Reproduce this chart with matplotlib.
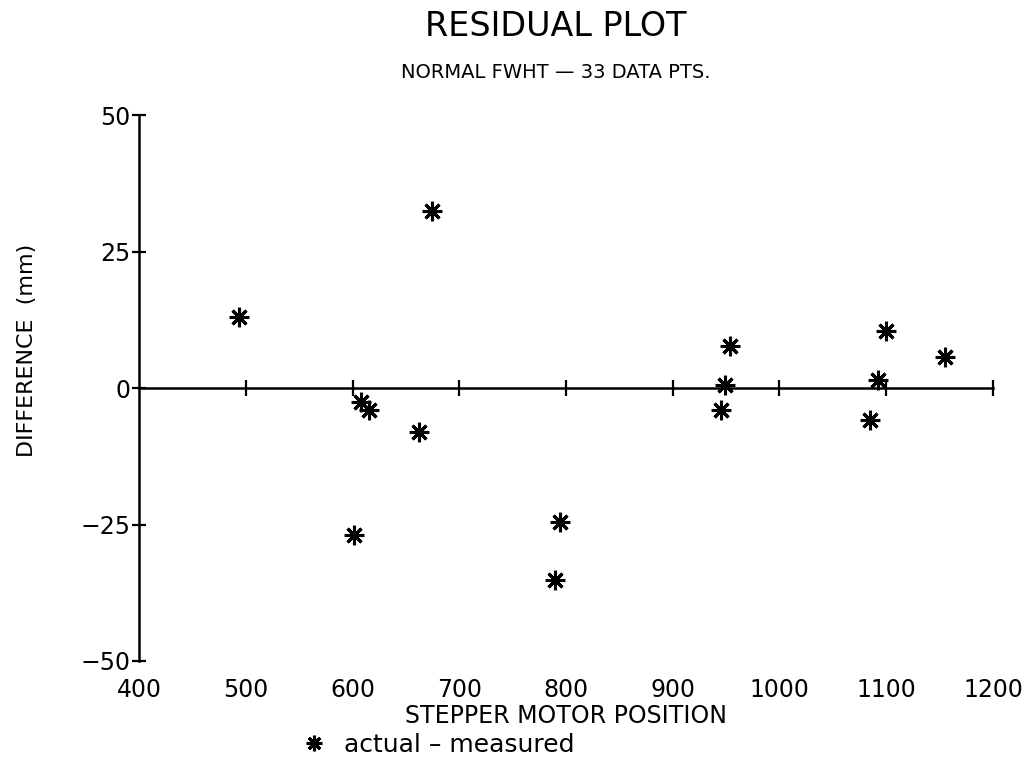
import numpy as np
import matplotlib
matplotlib.use("Agg")
from matplotlib import pyplot as plt

# stepper motor position vs. residual (actual - measured)
position = [494, 674, 608, 615, 662, 601, 794, 790,
            954, 949, 945, 1100, 1092, 1085, 1155]
difference = [13.0, 32.4, -2.5, -4.0, -8.0, -27.0, -24.6, -35.2,
              7.8, 0.5, -4.1, 10.5, 1.5, -5.8, 5.7]

x_ticks = [400, 500, 600, 700, 800, 900, 1000, 1100, 1200]
y_ticks = [-50, -25, 0, 25, 50]

plt.rcParams['font.family'] = ['DejaVu Sans']

fig = plt.figure(figsize=(10.30, 7.58), dpi=100)
ax = fig.add_axes([0.135, 0.128, 0.829, 0.72])

ax.plot(position, difference, linestyle='none', marker=(8, 2, 0),
        markersize=14, markeredgewidth=2.2, color='black',
        label='actual \u2013 measured')

ax.set_xlim(400, 1200)
ax.set_ylim(-50, 50)

# x axis line sits at zero, labels at the bottom
ax.spines['bottom'].set_position(('data', 0))
ax.spines['top'].set_visible(False)
ax.spines['right'].set_visible(False)
for s in ['left', 'bottom']:
    ax.spines[s].set_linewidth(1.8)

ax.set_xticks(x_ticks[1:])
ax.tick_params(axis='x', direction='inout', length=11, width=1.6,
               labelbottom=False)
ax.set_yticks(y_ticks)
ax.tick_params(axis='y', direction='inout', length=10, width=1.6,
               labelsize=17, pad=1)

# tick labels on a secondary axis at the bottom
sec = ax.secondary_xaxis(0)
sec.spines['bottom'].set_visible(False)
sec.set_xticks(x_ticks)
sec.tick_params(length=0, labelsize=17, pad=12)
sec.set_xlabel('STEPPER MOTOR POSITION', fontsize=17, labelpad=2)

ax.set_ylabel('DIFFERENCE  (mm)', fontsize=16)
ax.yaxis.set_label_coords(-0.119, 0.57)

fig.text(0.54, 0.965, 'RESIDUAL PLOT', ha='center', va='center', fontsize=24)
fig.text(0.54, 0.905, 'NORMAL FWHT \u2014 33 DATA PTS.', ha='center',
         va='center', fontsize=14)

fig.legend(loc='center', bbox_to_anchor=(0.425, 0.017), frameon=False,
           borderaxespad=0, borderpad=0, fontsize=18, handlelength=1.0,
           handletextpad=0.7, markerscale=0.8)

fig.savefig('out.png', dpi=100)
